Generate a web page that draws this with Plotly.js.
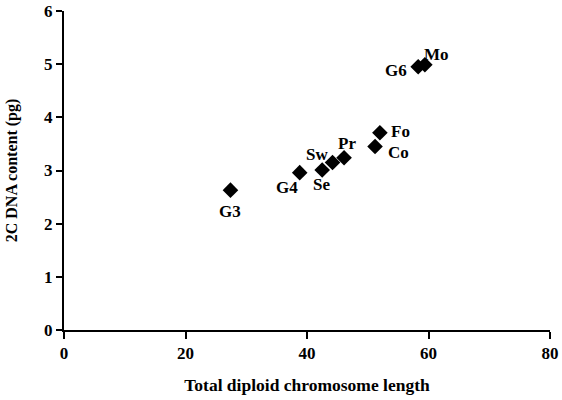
<!DOCTYPE html>
<html>
<head>
<meta charset="utf-8">
<script src="https://cdn.plot.ly/plotly-3.0.1.min.js"></script>
<style>html,body{margin:0;padding:0;background:#fff;}#chart{width:562px;height:400px;}</style>
</head>
<body>
<div id="chart"></div>
<script>
// Data
const labels = ["G3", "G4", "Se", "Sw", "Pr", "Co", "Fo", "G6", "Mo"];
const chromLength = [27.4, 38.8, 42.5, 44.2, 46.1, 51.2, 52.0, 58.3, 59.4];
const dnaContent = [2.63, 2.96, 3.01, 3.15, 3.24, 3.45, 3.71, 4.95, 4.99];
const xTicks = [0, 20, 40, 60, 80];
const yTicks = [0, 1, 2, 3, 4, 5, 6];

// Label offsets (styling, pixels)
const labelDx = [0, -13, -1, -16, 3, 23, 21, -22, 12];
const labelDy = [-21, -15, -15, 8, 14, -6, 1, -4, 10];

const fontFam = "'Liberation Serif', 'Times New Roman', serif";

const trace = {
  x: chromLength,
  y: dnaContent,
  mode: "markers",
  type: "scatter",
  marker: {symbol: "diamond", size: 12, color: "#000"},
  hoverinfo: "skip"
};

const annotations = labels.map((t, i) => ({
  x: chromLength[i], y: dnaContent[i], xref: "x", yref: "y",
  text: "<b>" + t + "</b>", showarrow: false,
  xshift: labelDx[i], yshift: labelDy[i],
  font: {family: fontFam, size: 17, color: "#000"}
}));

const layout = {
  width: 562, height: 400,
  margin: {l: 64, r: 12, t: 11, b: 70},
  paper_bgcolor: "#fff", plot_bgcolor: "#fff",
  showlegend: false,
  font: {family: fontFam, color: "#000"},
  xaxis: {
    range: [0, 80], tickvals: xTicks, ticktext: xTicks.map(v => "<b>" + v + "</b>"),
    showgrid: false, zeroline: false, showline: true, linecolor: "#000", linewidth: 2,
    ticks: "outside", ticklen: 7, tickwidth: 2, tickcolor: "#000",
    tickfont: {family: fontFam, size: 17, color: "#000"},
    title: {text: "<b>Total diploid chromosome length</b>", font: {family: fontFam, size: 17.5, color: "#000"}, standoff: 16}
  },
  yaxis: {
    range: [0, 6], tickvals: yTicks, ticktext: yTicks.map(v => "<b>" + v + "</b>"),
    showgrid: false, zeroline: false, showline: true, linecolor: "#000", linewidth: 2,
    ticks: "outside", ticklen: 6, tickwidth: 2, tickcolor: "#000",
    tickfont: {family: fontFam, size: 17, color: "#000"},
    title: {text: "<b>2C DNA content (pg)</b>", font: {family: fontFam, size: 16, color: "#000"}, standoff: 22}
  },
  annotations: annotations
};

Plotly.newPlot("chart", [trace], layout, {displayModeBar: false, staticPlot: true});
</script>
</body>
</html>
